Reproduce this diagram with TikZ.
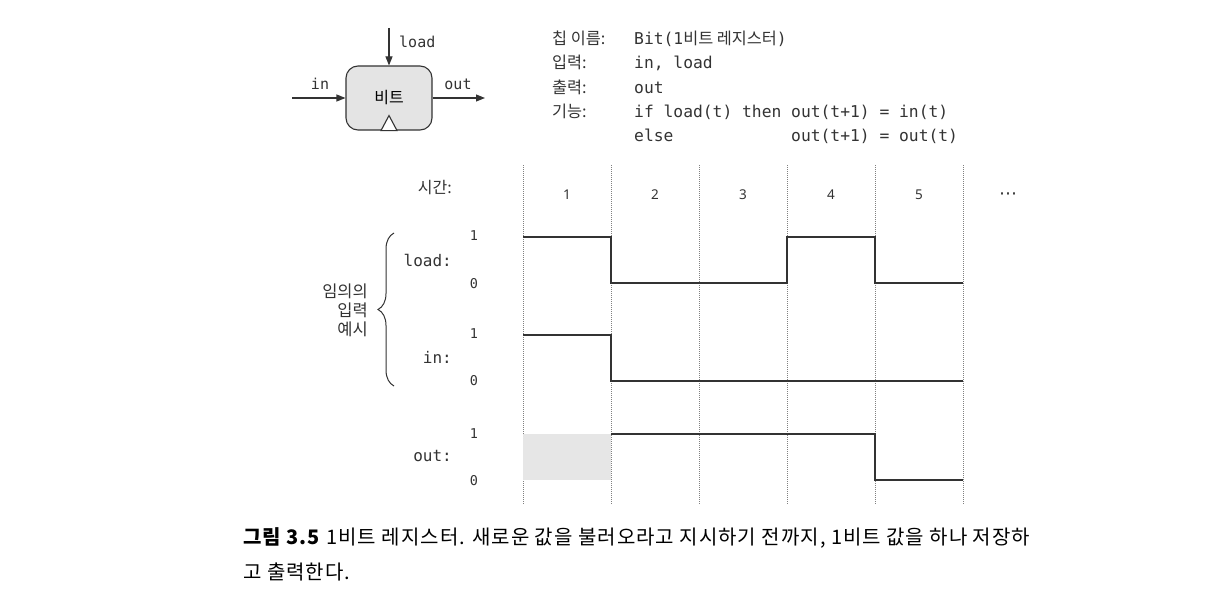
\documentclass[tikz,border=0pt]{standalone}
\usepackage{fontspec}
\setmainfont{Noto Sans}
\newfontfamily\kr{Noto Sans CJK KR}
\newfontfamily\mono{DejaVu Sans Mono}
\newfontfamily\djv{DejaVu Sans}
\usetikzlibrary{arrows.meta,decorations.pathreplacing}
\definecolor{ink}{HTML}{333333}
\definecolor{chipfill}{HTML}{E4E4E4}
\definecolor{gridc}{HTML}{808080}
\definecolor{shadegray}{HTML}{E6E6E6}
\tikzset{
  chip/.style={draw=ink,line width=1.1pt,fill=chipfill,rounded corners=12pt,minimum width=86pt,minimum height=64pt,inner sep=0pt},
  sig/.style={-{Triangle[length=9pt,width=7pt]},line width=1.1pt,draw=ink},
  lbl/.style={font=\mono\fontsize{15}{15}\selectfont,text=ink,inner sep=0pt},
  spec/.style={font=\fontsize{16.3}{16.3}\selectfont,text=ink,anchor=base west,inner sep=0pt},
  ticklbl/.style={font=\mono\fontsize{13.5}{13.5}\selectfont,text=ink,inner sep=0pt},
  sname/.style={font=\mono\fontsize{16}{16}\selectfont,text=ink,anchor=east,inner sep=0pt},
  tnum/.style={font=\fontsize{13.5}{13.5}\selectfont,text=ink,inner sep=0pt},
  gridline/.style={draw=gridc,dash pattern=on 1pt off 1pt,line width=0.8pt},
  wave/.style={draw=ink,line width=1.2pt},
  captext/.style={font=\kr\fontsize{20}{20}\selectfont\addfontfeature{LetterSpace=5},text=black,anchor=base west,inner sep=0pt},
}
\begin{document}
\begin{tikzpicture}[x=1pt,y=-1pt]
\useasboundingbox (0,0) rectangle (1218,594);
% chip
\node[chip] (bit) at (389,98) {\kr\fontsize{16}{16}\selectfont 비트};
\draw[ink,line width=1.1pt,fill=white] ([xshift=-8pt]bit.south) -- ([yshift=15pt]bit.south) -- ([xshift=8pt]bit.south) -- cycle;
\coordinate (loadsrc) at (389,28);
\coordinate (insrc) at (292,98);
\coordinate (outdst) at (485,98);
\draw[sig] (loadsrc) -- (bit.north);
\draw[sig] (insrc) -- (bit.west);
\draw[sig] (bit.east) -- (outdst);
\node[lbl,anchor=base west] (tload) at (399,48) {load};
\node[lbl,anchor=base] (tin) at (320,89) {in};
\node[lbl,anchor=base] (tout) at (458,89) {out};
% spec
\node[spec] (s1a) at (552,45) {\kr 칩 이름:};
\node[spec] (s1b) at (634,45) {\mono Bit(1\kr 비트 레지스터\mono )};
\node[spec] (s2a) at (552,69) {\kr 입력:};
\node[spec] (s2b) at (634,69) {\mono in, load};
\node[spec] (s3a) at (552,93) {\kr 출력:};
\node[spec] (s3b) at (634,93) {\mono out};
\node[spec] (s4a) at (552,117) {\kr 기능:};
\node[spec] (s4b) at (634,117) {\mono if load(t) then out(t+1) = in(t)};
\node[spec] (s5b) at (634,141) {\mono else\phantom{xxxxxxxxxxxx}out(t+1) = out(t)};
% grid
\foreach \x in {523,611,699,787,875,963} \draw[gridline] (\x,165) -- (\x,505);
\foreach \n/\x in {1/567,2/655,3/743,4/831,5/919}
  \node[tnum] (t\n) at (\x,195) {\n};
\node[font=\djv\fontsize{18}{18}\selectfont,text=ink,inner sep=0pt] (tdots) at (1008,196) {⋯};
\node[font=\kr\fontsize{16}{16}\selectfont,text=ink,anchor=east,inner sep=0pt] (time) at (452,188) {시간:};
% shading
\fill[shadegray] (523,434) rectangle (611,480);
% waveforms
\draw[wave] (523,237) -- (611,237) -- (611,283) -- (787,283) -- (787,237) -- (875,237) -- (875,283) -- (963,283);
\draw[wave] (523,335) -- (611,335) -- (611,381) -- (963,381);
\draw[wave] (611,434) -- (875,434) -- (875,480) -- (963,480);
% labels
\node[sname] (nload) at (452,260) {load:};
\node[sname] (nin) at (452,357) {in:};
\node[sname] (nout) at (452,456) {out:};
\foreach \y/\v in {236/1,284/0,334/1,381/0,434/1,481/0}
  \node[ticklbl] at (474,\y) {\v};
% brace
\draw[ink,line width=1pt,decorate,decoration={brace,amplitude=16pt}] (394,386) -- (394,233);
\node[font=\kr\fontsize{16.5}{19}\selectfont,text=ink,align=right,anchor=east,inner sep=0pt] (ex) at (368,310) {임의의\\입력\\예시};
% caption
\node[captext] (c1) at (243,544) {\textbf{그림 3.5} 1비트 레지스터. 새로운 값을 불러오라고 지시하기 전까지, 1비트 값을 하나 저장하};
\node[captext] (c2) at (243,579) {고 출력한다.};
\end{tikzpicture}
\end{document}
